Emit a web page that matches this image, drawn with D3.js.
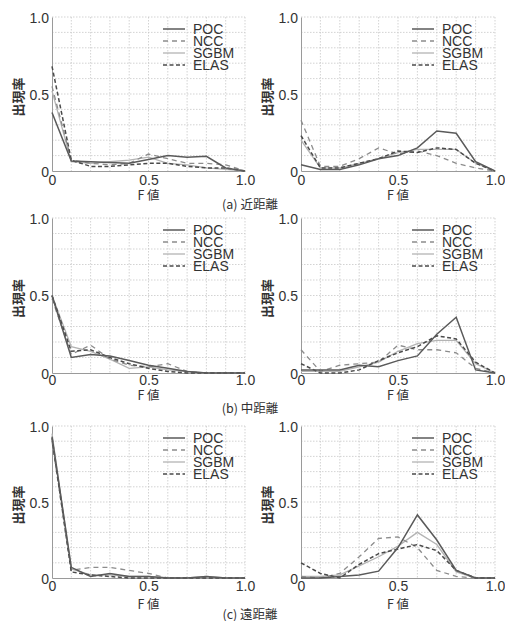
<!DOCTYPE html>
<html><head><meta charset="utf-8">
<script src="https://cdn.jsdelivr.net/npm/d3@7"></script>
<style>
html,body{margin:0;padding:0;background:#fff;}
svg{display:block;}
</style></head>
<body>
<svg id="chart" width="505" height="621"></svg>
<script>
// ---- data ----
const fValues = [0,0.1,0.2,0.3,0.4,0.5,0.6,0.7,0.8,0.9,1.0];
const methods = ["POC","NCC","SGBM","ELAS"];
const xTicks = [0,0.5,1.0];
const yTicks = [0,0.5,1.0];
const xTickLabels = ["0","0.5","1.0"];
const yTickLabels = ["0","0.5","1.0"];
const captions = ["(a) 近距離","(b) 中距離","(c) 遠距離"];
const xLabel = "F 値";
const yLabel = "出現率";

// each: [POC, NCC, SGBM, ELAS]
const nearLeft = [
  [0.38,0.065,0.06,0.055,0.05,0.075,0.10,0.09,0.095,0.02,0.0],
  [0.55,0.07,0.05,0.04,0.05,0.11,0.08,0.05,0.05,0.04,0.0],
  [0.52,0.06,0.05,0.06,0.07,0.09,0.05,0.04,0.02,0.01,0.0],
  [0.68,0.07,0.03,0.03,0.04,0.05,0.05,0.03,0.02,0.02,0.0]
];
const nearRight = [
  [0.04,0.01,0.01,0.04,0.08,0.10,0.15,0.26,0.245,0.06,0.0],
  [0.33,0.03,0.03,0.08,0.15,0.11,0.13,0.10,0.05,0.02,0.0],
  [0.20,0.02,0.02,0.05,0.08,0.12,0.14,0.14,0.14,0.05,0.0],
  [0.23,0.02,0.02,0.05,0.08,0.13,0.12,0.15,0.14,0.05,0.0]
];
const midLeft = [
  [0.50,0.10,0.12,0.11,0.08,0.05,0.03,0.01,0.0,0.0,0.0],
  [0.48,0.12,0.18,0.09,0.05,0.04,0.06,0.01,0.0,0.0,0.0],
  [0.50,0.17,0.14,0.09,0.03,0.04,0.02,0.01,0.0,0.0,0.0],
  [0.50,0.14,0.15,0.10,0.06,0.03,0.01,0.0,0.0,0.0,0.0]
];
const midRight = [
  [0.02,0.02,0.02,0.05,0.04,0.08,0.11,0.25,0.36,0.02,0.0],
  [0.15,0.01,0.05,0.06,0.07,0.18,0.15,0.15,0.13,0.03,0.0],
  [0.01,0.01,0.01,0.04,0.07,0.14,0.19,0.21,0.21,0.06,0.0],
  [0.06,0.0,0.0,0.02,0.08,0.13,0.17,0.24,0.22,0.07,0.0]
];
const farLeft = [
  [0.93,0.07,0.01,0.03,0.01,0.01,0.0,0.0,0.01,0.0,0.0],
  [0.90,0.05,0.07,0.07,0.05,0.03,0.0,0.0,0.0,0.0,0.0],
  [0.95,0.06,0.02,0.02,0.01,0.01,0.0,0.0,0.01,0.0,0.0],
  [0.92,0.04,0.02,0.01,0.0,0.0,0.0,0.0,0.0,0.0,0.0]
];
const farRight = [
  [0.0,0.0,0.01,0.02,0.045,0.20,0.415,0.25,0.05,0.0,0.0],
  [0.01,0.0,0.03,0.14,0.26,0.27,0.20,0.05,0.01,0.0,0.0],
  [0.01,0.01,0.02,0.08,0.14,0.21,0.30,0.22,0.04,0.0,0.0],
  [0.10,0.03,0.0,0.09,0.16,0.19,0.22,0.18,0.05,0.0,0.0]
];

// ---- layout / style ----
const styles = {
  POC:  {stroke:"#5a5a5a", width:1.5, dash:null},
  NCC:  {stroke:"#8c8c8c", width:1.3, dash:"5,4"},
  SGBM: {stroke:"#b4b4b4", width:1.3, dash:null},
  ELAS: {stroke:"#4a4a4a", width:1.5, dash:"4,2.5"}
};
const latin = "'Liberation Sans', Arial, sans-serif";
const cjk = "'Noto Sans CJK JP', 'Noto Sans CJK SC', sans-serif";
const textColor = "#333";

const rows = [
  {top:17, bottom:171, tickBase:184.5, fY:195, capY:204, data:[nearLeft, nearRight]},
  {top:218, bottom:373, tickBase:385, fY:395.5, capY:408, data:[midLeft, midRight]},
  {top:426, bottom:578, tickBase:591, fY:604, capY:614, data:[farLeft, farRight]}
];
const cols = [{x0:52, x1:245}, {x0:301, x1:495}];

const svg = d3.select("#chart");

rows.forEach((row, ri) => {
  cols.forEach((col, ci) => {
    const x = d3.scaleLinear().domain([0,1]).range([col.x0, col.x1]);
    const y = d3.scaleLinear().domain([0,1]).range([row.bottom, row.top]);
    const g = svg.append("g");
    const grid = d3.range(0, 11).map(i => i/10);

    // grid
    g.append("g").selectAll("line.v").data(grid.slice(1)).join("line")
      .attr("x1", d => x(d)).attr("x2", d => x(d))
      .attr("y1", row.top).attr("y2", row.bottom)
      .attr("stroke", "#c8c8c8").attr("stroke-width", 0.8).attr("stroke-dasharray", "1.5,1.5");
    g.append("g").selectAll("line.h").data(grid.slice(1)).join("line")
      .attr("x1", col.x0).attr("x2", col.x1)
      .attr("y1", d => y(d)).attr("y2", d => y(d))
      .attr("stroke", "#c8c8c8").attr("stroke-width", 0.8).attr("stroke-dasharray", "1.5,1.5");

    // axes (solid left & bottom)
    const xAxis = d3.axisBottom(x).tickValues(xTicks).tickSize(0)
      .tickFormat((d,i) => xTickLabels[i]);
    const yAxis = d3.axisLeft(y).tickValues(yTicks).tickSize(0)
      .tickFormat((d,i) => yTickLabels[i]);
    const gx = g.append("g").attr("transform", `translate(0,${row.bottom})`).call(xAxis);
    gx.select(".domain").attr("stroke", "#9a9a9a").attr("stroke-width", 1);
    gx.selectAll("text").attr("font-family", latin).attr("font-size", 14)
      .attr("fill", textColor).attr("dy", null).attr("y", row.tickBase - row.bottom);
    const gy = g.append("g").attr("transform", `translate(${col.x0},0)`).call(yAxis);
    gy.select(".domain").attr("stroke", "#9a9a9a").attr("stroke-width", 1);
    gy.selectAll("text").attr("font-family", latin).attr("font-size", 14)
      .attr("fill", textColor).attr("x", -3).attr("dy", "0.36em");

    // lines
    const line = d3.line().x((d,i) => x(fValues[i])).y(d => y(d));
    const panel = row.data[ci];
    // draw order: SGBM, NCC, ELAS, POC
    [2,1,3,0].forEach(mi => {
      const s = styles[methods[mi]];
      g.append("path").datum(panel[mi])
        .attr("d", line).attr("fill", "none")
        .attr("stroke", s.stroke).attr("stroke-width", s.width)
        .attr("stroke-dasharray", s.dash)
        .attr("stroke-linejoin", "miter");
    });

    // legend
    const lx0 = col.x0 + 111, lx1 = col.x0 + 133, tx = col.x0 + 141;
    methods.forEach((m, mi) => {
      const ly = row.top + 12 + mi * 12;
      const s = styles[m];
      g.append("line").attr("x1", lx0).attr("x2", lx1).attr("y1", ly).attr("y2", ly)
        .attr("stroke", s.stroke).attr("stroke-width", s.width).attr("stroke-dasharray", s.dash);
      g.append("text").attr("x", tx).attr("y", ly).attr("dy", "0.36em")
        .attr("font-family", latin).attr("font-size", 14).attr("fill", textColor).text(m);
    });

    // x label
    g.append("text").attr("x", (col.x0 + col.x1)/2).attr("y", row.fY).attr("dy", "0.36em")
      .attr("text-anchor", "middle").attr("font-family", cjk).attr("font-size", 12.5)
      .attr("fill", textColor).text(xLabel);

    // y label
    const yl = col.x0 - 34, ym = y(0.5) + 3;
    g.append("text").attr("transform", `translate(${yl},${ym}) rotate(-90)`)
      .attr("text-anchor", "middle").attr("dy", "0.36em")
      .attr("font-family", cjk).attr("font-size", 13).attr("font-weight", "bold")
      .attr("fill", textColor).text(yLabel);
  });

  svg.append("text").attr("x", 250).attr("y", row.capY).attr("dy", "0.36em")
    .attr("text-anchor", "middle").attr("font-family", cjk).attr("font-size", 12.5)
    .attr("fill", textColor).text(captions[ri]);
});
</script>
</body></html>
